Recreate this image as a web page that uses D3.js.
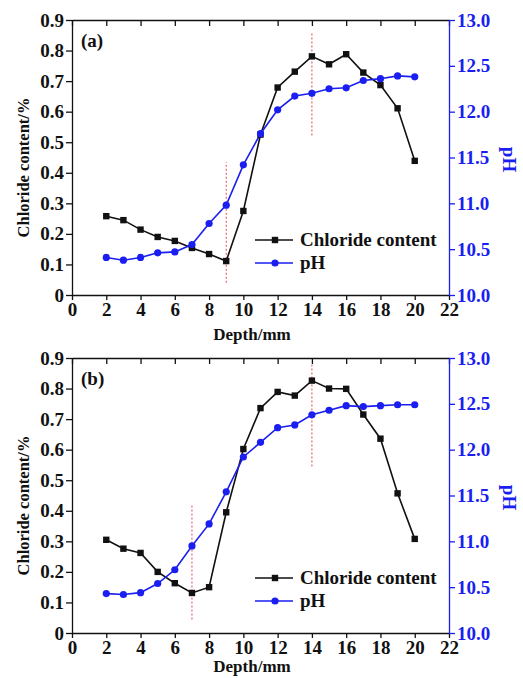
<!DOCTYPE html>
<html>
<head>
<meta charset="utf-8">
<script src="https://cdn.jsdelivr.net/npm/d3@7"></script>
<style>
  body { margin: 0; background: #fff; }
  svg text { font-family: "Liberation Serif", "DejaVu Serif", serif; font-weight: bold; }
</style>
</head>
<body>
<div id="graph"></div>
<script>
// depths (mm)
const depth = [2, 3, 4, 5, 6, 7, 8, 9, 10, 11, 12, 13, 14, 15, 16, 17, 18, 19, 20];

// panel (a)
const chlorideA = [0.258, 0.245, 0.214, 0.19, 0.177, 0.154, 0.134, 0.111, 0.275, 0.525, 0.679, 0.731, 0.781, 0.755, 0.788, 0.728, 0.687, 0.611, 0.439];
const phA = [10.41, 10.38, 10.41, 10.46, 10.47, 10.55, 10.78, 10.98, 11.42, 11.76, 12.02, 12.17, 12.2, 12.25, 12.26, 12.34, 12.36, 12.39, 12.38];
const markA = [{ depth: 9, from: 0.04, to: 0.435 }, { depth: 14, from: 0.522, to: 0.859 }];

// panel (b)
const chlorideB = [0.305, 0.276, 0.262, 0.2, 0.163, 0.131, 0.15, 0.395, 0.602, 0.736, 0.789, 0.777, 0.826, 0.8, 0.799, 0.715, 0.636, 0.457, 0.308];
const phB = [10.43, 10.42, 10.44, 10.54, 10.69, 10.95, 11.19, 11.54, 11.92, 12.08, 12.24, 12.27, 12.38, 12.43, 12.48, 12.47, 12.48, 12.49, 12.49];
const markB = [{ depth: 7, from: 0.044, to: 0.423 }, { depth: 14, from: 0.545, to: 0.878 }];

// tick values
const xTicks = [0, 2, 4, 6, 8, 10, 12, 14, 16, 18, 20, 22];
const clTicks = [0, 0.1, 0.2, 0.3, 0.4, 0.5, 0.6, 0.7, 0.8, 0.9];
const phTicks = [10.0, 10.5, 11.0, 11.5, 12.0, 12.5, 13.0];
const seriesNames = ["Chloride content", "pH"];

const width = 523, height = 678;
const blue = "#1a1ef0";
const black = "#111";
const font = '"Liberation Serif", "DejaVu Serif", serif';

const svg = d3.select("#graph").append("svg")
  .attr("width", width)
  .attr("height", height)
  .attr("font-family", font);

function drawPanel(cfg) {
  const x = d3.scaleLinear().domain([0, 22]).range([72, 449]);
  const yCl = d3.scaleLinear().domain([0, 0.9]).range([cfg.bottom, cfg.top]);
  const yPh = d3.scaleLinear().domain([10, 13]).range([cfg.bottom, cfg.top]);

  const g = svg.append("g");

  // top axis (inward ticks, no labels)
  g.append("g")
    .attr("transform", `translate(0,${cfg.top})`)
    .call(d3.axisTop(x).tickValues(xTicks).tickSize(-6).tickSizeOuter(0).tickFormat(""))
    .call(a => a.selectAll("path,line").attr("stroke", black).attr("stroke-width", 1.3));

  // bottom axis
  g.append("g")
    .attr("transform", `translate(0,${cfg.bottom})`)
    .call(d3.axisBottom(x).tickValues(xTicks).tickSize(5).tickSizeOuter(0).tickPadding(3).tickFormat(d3.format("d")))
    .call(a => a.attr("font-family", font))
    .call(a => a.selectAll("path,line").attr("stroke", black).attr("stroke-width", 1.3))
    .call(a => a.selectAll("text").attr("fill", black).style("font-size", "19px"));

  // left axis
  g.append("g")
    .attr("transform", "translate(72,0)")
    .call(d3.axisLeft(yCl).tickValues(clTicks).tickSize(6).tickSizeOuter(0).tickPadding(2)
      .tickFormat(d => d === 0 ? "0" : d3.format(".1f")(d)))
    .call(a => a.attr("font-family", font))
    .call(a => a.selectAll("path,line").attr("stroke", black).attr("stroke-width", 1.3))
    .call(a => a.selectAll("text").attr("fill", black).style("font-size", "19px"));

  // right axis (pH)
  g.append("g")
    .attr("transform", "translate(449,0)")
    .call(d3.axisRight(yPh).tickValues(phTicks).tickSize(6).tickSizeOuter(0).tickPadding(2)
      .tickFormat(d3.format(".1f")))
    .call(a => a.attr("font-family", font))
    .call(a => a.selectAll("path,line").attr("stroke", blue).attr("stroke-width", 1.3))
    .call(a => a.selectAll("text").attr("fill", blue).style("font-size", "19px"));

  // red dashed markers
  g.selectAll(".mark")
    .data(cfg.marks)
    .enter()
    .append("line")
    .attr("x1", d => x(d.depth))
    .attr("x2", d => x(d.depth))
    .attr("y1", d => yCl(d.from))
    .attr("y2", d => yCl(d.to))
    .attr("stroke", "#e8434f")
    .attr("stroke-width", 1)
    .attr("stroke-dasharray", "2,2");

  const clData = depth.map((d, i) => [d, cfg.chloride[i]]);
  const phData = depth.map((d, i) => [d, cfg.ph[i]]);

  g.append("path")
    .datum(clData)
    .attr("fill", "none")
    .attr("stroke", black)
    .attr("stroke-width", 1.6)
    .attr("d", d3.line().x(d => x(d[0])).y(d => yCl(d[1])));

  g.append("path")
    .datum(phData)
    .attr("fill", "none")
    .attr("stroke", blue)
    .attr("stroke-width", 1.6)
    .attr("d", d3.line().x(d => x(d[0])).y(d => yPh(d[1])));

  g.selectAll(".sq")
    .data(clData)
    .enter()
    .append("rect")
    .attr("x", d => x(d[0]) - 3.2)
    .attr("y", d => yCl(d[1]) - 3.2)
    .attr("width", 6.4)
    .attr("height", 6.4)
    .attr("fill", black);

  g.selectAll(".dot")
    .data(phData)
    .enter()
    .append("circle")
    .attr("cx", d => x(d[0]))
    .attr("cy", d => yPh(d[1]))
    .attr("r", 3.6)
    .attr("fill", blue);

  // panel label
  g.append("text")
    .attr("x", 81)
    .attr("y", cfg.top + 27)
    .style("font-size", "19px")
    .attr("fill", black)
    .text(cfg.label);

  // axis titles
  g.append("text")
    .attr("transform", `translate(29,${(cfg.top + cfg.bottom) / 2 + 10}) rotate(-90)`)
    .attr("text-anchor", "middle")
    .style("font-size", "16.5px")
    .attr("fill", black)
    .text("Chloride content/%");

  g.append("text")
    .attr("transform", `translate(503,${(cfg.top + cfg.bottom) / 2 + 2}) rotate(90)`)
    .attr("text-anchor", "middle")
    .style("font-size", "19px")
    .attr("fill", blue)
    .text("pH");

  g.append("text")
    .attr("x", 252)
    .attr("y", cfg.bottom + cfg.titleGap)
    .attr("text-anchor", "middle")
    .style("font-size", "17px")
    .attr("fill", black)
    .text("Depth/mm");

  // legend
  const legend = g.append("g")
    .attr("transform", `translate(255,${cfg.bottom - 55})`);
  const entries = legend.selectAll(".legend-entry")
    .data(seriesNames)
    .enter()
    .append("g")
    .attr("transform", (d, i) => `translate(0,${i * 23})`);
  entries.append("line")
    .attr("x1", 0).attr("x2", 38)
    .attr("stroke", (d, i) => i === 0 ? black : blue)
    .attr("stroke-width", 1.6);
  entries.filter((d, i) => i === 0).append("rect")
    .attr("x", 16.8).attr("y", -3.2).attr("width", 6.4).attr("height", 6.4)
    .attr("fill", black);
  entries.filter((d, i) => i === 1).append("circle")
    .attr("cx", 20).attr("r", 3.6)
    .attr("fill", blue);
  entries.append("text")
    .attr("x", 45)
    .attr("y", 6)
    .style("font-size", "19px")
    .attr("fill", black)
    .text(d => d);
}

drawPanel({ top: 20, bottom: 295, chloride: chlorideA, ph: phA, marks: markA, label: "(a)", titleGap: 45 });
drawPanel({ top: 358, bottom: 633, chloride: chlorideB, ph: phB, marks: markB, label: "(b)", titleGap: 39 });
</script>
</body>
</html>
